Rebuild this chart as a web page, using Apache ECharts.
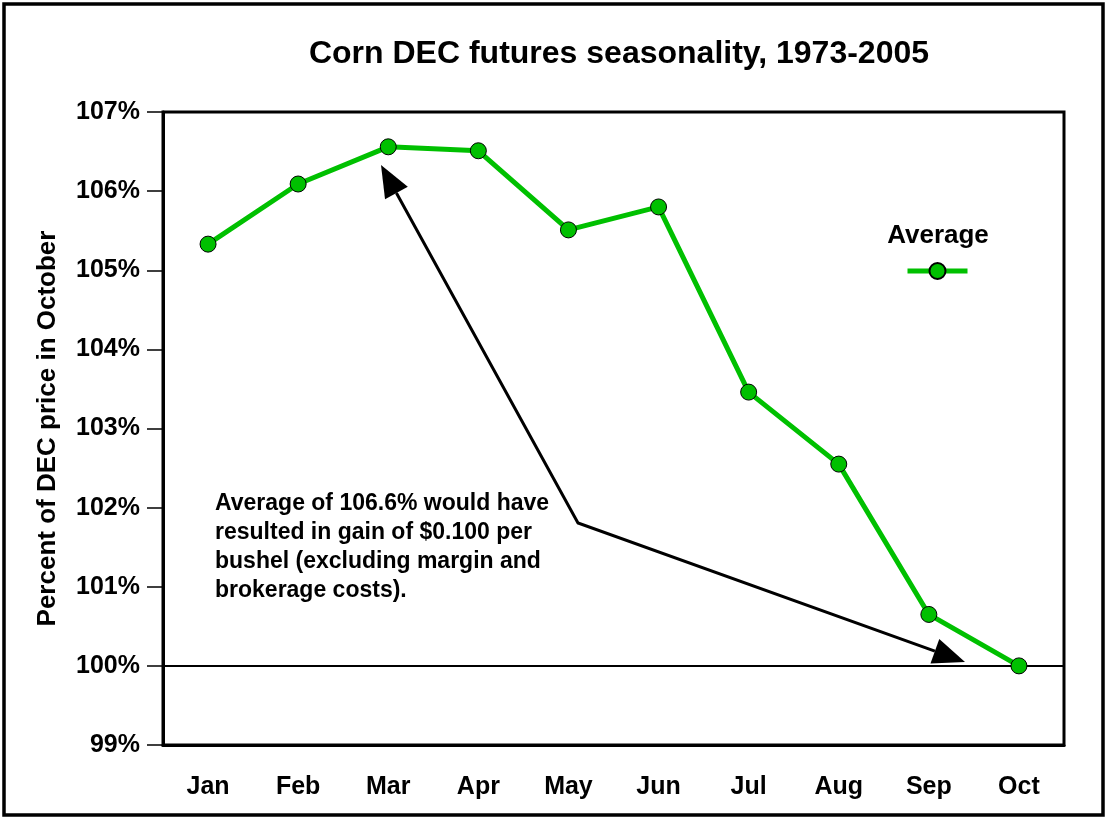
<!DOCTYPE html>
<html>
<head>
<meta charset="utf-8">
<script src="https://cdn.jsdelivr.net/npm/echarts@6/dist/echarts.min.js"></script>
<style>html,body{margin:0;padding:0;background:#fff;}#c{width:1106px;height:818px;}</style>
</head>
<body>
<div id="c"></div>
<script>
const months = ['Jan','Feb','Mar','Apr','May','Jun','Jul','Aug','Sep','Oct'];
const average = [105.33, 106.09, 106.56, 106.51, 105.51, 105.80, 103.46, 102.55, 100.65, 100.00];
const yTicks = [99, 100, 101, 102, 103, 104, 105, 106, 107];

const FONT = 'Liberation Sans, Arial, sans-serif';
const green = '#00C000';

// annotation arrow layout (pixels)
const tipA = [381, 165], elbow = [578, 523], tipB = [965, 662];
function head(tip, from, len, half) {
  const dx = tip[0]-from[0], dy = tip[1]-from[1];
  const L = Math.hypot(dx, dy), ux = dx/L, uy = dy/L;
  const bx = tip[0]-len*ux, by = tip[1]-len*uy;
  const px = -uy*half, py = ux*half;
  return {pts: [tip, [bx+px, by+py], [bx-px, by-py]], base: [bx, by]};
}
const hA = head(tipA, elbow, 32, 13), hB = head(tipB, elbow, 32, 13);

const chart = echarts.init(document.getElementById('c'));
chart.setOption({
  animation: false,
  backgroundColor: '#fff',
  title: {
    text: 'Corn DEC futures seasonality, 1973-2005',
    left: 614, top: 33, textAlign: 'center',
    textStyle: {fontFamily: FONT, fontWeight: 'bold', fontSize: 32, color: '#000'}
  },
  legend: {
    data: ['Average'], left: 900, top: 256,
    itemWidth: 60, itemHeight: 20, formatter: () => '',
    lineStyle: {width: 5},
    textStyle: {fontSize: 1}
  },
  grid: {left: 163, right: 42, top: 112, bottom: 73, show: true, borderColor: '#000', borderWidth: 3},
  xAxis: {
    type: 'category', data: months, boundaryGap: true,
    axisLine: {lineStyle: {color: '#000', width: 3}},
    axisTick: {alignWithLabel: true, length: 15, lineStyle: {color: '#000', width: 1.5}},
    axisLabel: {margin: 30, color: '#000', fontFamily: FONT, fontWeight: 'bold', fontSize: 25}
  },
  yAxis: {
    type: 'value', min: yTicks[0], max: yTicks[yTicks.length-1], interval: 1,
    name: 'Percent of DEC price in October', nameLocation: 'middle', nameRotate: 90, nameGap: 102,
    nameTextStyle: {fontFamily: FONT, fontWeight: 'bold', fontSize: 26, color: '#000'},
    axisLine: {show: true, lineStyle: {color: '#000', width: 3}},
    axisTick: {show: true, length: 16, lineStyle: {color: '#000', width: 1.5}},
    splitLine: {show: false},
    axisLabel: {margin: 23, color: '#000', fontFamily: FONT, fontWeight: 'bold', fontSize: 25, formatter: '{value}%'}
  },
  series: [{
    name: 'Average', type: 'line', data: average,
    symbol: 'circle', symbolSize: 16,
    lineStyle: {color: green, width: 5},
    itemStyle: {color: green, borderColor: '#000', borderWidth: 1},
    z: 5,
    markLine: {
      silent: true, symbol: ['none','none'], label: {show: false},
      lineStyle: {color: '#000', width: 1.8, type: 'solid'},
      data: [{yAxis: 100}], z: 1
    }
  }],
  graphic: [
    {type: 'rect', shape: {x: 4, y: 4, width: 1099, height: 811}, style: {fill: 'none', stroke: '#000', lineWidth: 3.5}, z: 100},
    {type: 'text', style: {text: 'Average', x: 938, y: 236, textAlign: 'center', textVerticalAlign: 'middle', font: 'bold 26px ' + FONT, fill: '#000'}, z: 100},
    {type: 'text', style: {text: 'Average of 106.6% would have\nresulted in gain of $0.100 per\nbushel (excluding margin and\nbrokerage costs).', x: 215, y: 489, font: 'bold 23px ' + FONT, lineHeight: 29, fill: '#000'}, z: 100},
    {type: 'polyline', shape: {points: [hA.base, elbow, hB.base]}, style: {stroke: '#000', lineWidth: 3, fill: null}, z: 100},
    {type: 'polygon', shape: {points: hA.pts}, style: {fill: '#000'}, z: 100},
    {type: 'polygon', shape: {points: hB.pts}, style: {fill: '#000'}, z: 100}
  ]
});
</script>
</body>
</html>
